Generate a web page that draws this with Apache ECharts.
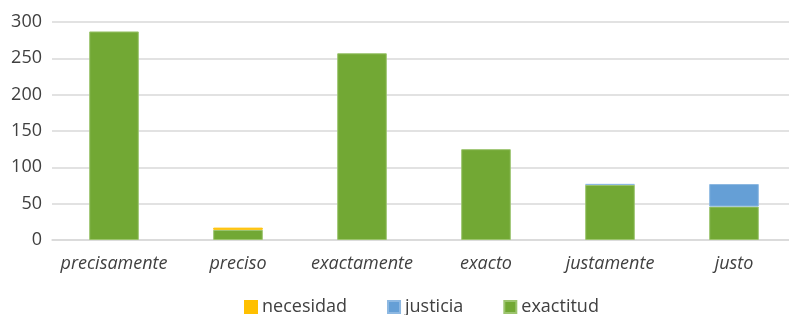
<!DOCTYPE html>
<html>
<head>
<meta charset="utf-8">
<script src="https://cdn.jsdelivr.net/npm/echarts@6/dist/echarts.min.js"></script>
<style>
  html, body { margin: 0; padding: 0; background: #fff; }
  #chart { width: 789px; height: 315px; }
</style>
</head>
<body>
<div id="chart"></div>
<script>
var categories = ['precisamente', 'preciso', 'exactamente', 'exacto', 'justamente', 'justo'];
var necesidad = [0, 3, 0, 0, 0, 0];
var justicia = [0, 0, 0, 0, 1, 31];
var exactitud = [287, 14, 257, 125, 76, 46];
var yTicks = [0, 50, 100, 150, 200, 250, 300];

var chart = echarts.init(document.getElementById('chart'));
var font = 'Open Sans, Noto Sans, sans-serif';

function barSeries(name, data, color, border) {
    return {
        name: name,
        type: 'bar',
        stack: 'total',
        barWidth: '40%',
        // zero segments are left out so their borders do not show
        data: data.map(function (v) { return v === 0 ? '-' : v; }),
        itemStyle: { color: color, borderColor: border, borderWidth: 1 }
    };
}

chart.setOption({
    animation: false,
    grid: { left: 52, width: 744, top: 22, bottom: 75, outerBoundsMode: 'none' },
    legend: {
        top: 298,
        left: 244,
        padding: 0,
        itemWidth: 12,
        itemHeight: 12,
        itemGap: 40,
        icon: 'rect',
        textStyle: { fontFamily: font, fontSize: 18, color: '#404040' },
        data: ['necesidad', 'justicia', 'exactitud']
    },
    xAxis: {
        type: 'category',
        data: categories,
        axisLine: { lineStyle: { color: '#d9d9d9', width: 1.5 } },
        axisTick: { show: false },
        axisLabel: { interval: 0, fontFamily: font, fontSize: 18, fontStyle: 'italic', color: '#404040', margin: 15 }
    },
    yAxis: {
        type: 'value',
        min: yTicks[0],
        max: yTicks[yTicks.length - 1],
        interval: 50,
        axisLine: { show: false },
        axisTick: { show: false },
        splitLine: { lineStyle: { color: '#d9d9d9', width: 1.5 } },
        axisLabel: { fontFamily: font, fontSize: 18, color: '#404040', margin: 10 }
    },
    series: [
        barSeries('exactitud', exactitud, '#72a834', '#9cc46e'),
        barSeries('justicia', justicia, '#659fd6', '#8db8e2'),
        barSeries('necesidad', necesidad, '#ffc000', '#ffc000')
    ]
});
</script>
</body>
</html>
